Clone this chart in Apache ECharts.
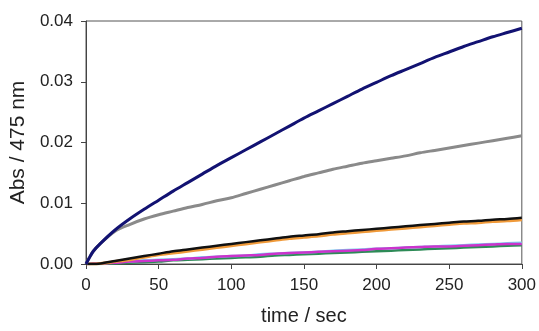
<!DOCTYPE html>
<html>
<head>
<meta charset="utf-8">
<script src="https://cdn.jsdelivr.net/npm/echarts@6/dist/echarts.min.js"></script>
<style>
  html, body { margin: 0; padding: 0; background: #fff; }
  #chart { width: 539px; height: 331px; }
</style>
</head>
<body>
<div id="chart"></div>
<script>
// time points (sec)
const times = [0, 2, 5, 10, 20, 30, 40, 50, 60, 70, 80, 90, 100, 110, 120, 130, 140, 150,
  160, 170, 180, 190, 200, 210, 220, 230, 240, 250, 260, 270, 280, 290, 300];

// absorbance at 475 nm
const navy = [0, 0.0009, 0.0021, 0.0034, 0.0056, 0.0074, 0.0090, 0.0105, 0.0120, 0.0134, 0.0148, 0.0162, 0.0175,
  0.0188, 0.0201, 0.0214, 0.0227, 0.0240, 0.0252, 0.0264, 0.0276, 0.0288, 0.0299,
  0.0310, 0.0320, 0.0330, 0.0340, 0.0349, 0.0358, 0.0366, 0.0374, 0.0381, 0.0388];
const gray = [0, 0.0009, 0.0021, 0.0034, 0.0054, 0.0065, 0.0074, 0.0081, 0.0087, 0.0093, 0.0098, 0.0104, 0.0109,
  0.0116, 0.0123, 0.0130, 0.0137, 0.0144, 0.0150, 0.0156, 0.0161, 0.0166, 0.0170,
  0.0174, 0.0178, 0.0183, 0.0187, 0.0191, 0.0195, 0.0199, 0.0203, 0.0207, 0.0211];
const black = [0, 0, 0, 0.0001, 0.0005, 0.0009, 0.0013, 0.0017, 0.0021, 0.0024, 0.0027, 0.0030, 0.0033,
  0.0036, 0.0039, 0.0042, 0.0045, 0.0047, 0.0049, 0.0052, 0.0054, 0.0056, 0.0058,
  0.0060, 0.0062, 0.0064, 0.0066, 0.0068, 0.0070, 0.0071, 0.0073, 0.0074, 0.0076];
const orange = [0, 0, 0, 0.0001, 0.0004, 0.0007, 0.0011, 0.0015, 0.0018, 0.0021, 0.0024, 0.0027, 0.0030,
  0.0033, 0.0036, 0.0039, 0.0042, 0.0044, 0.0046, 0.0049, 0.0051, 0.0053, 0.0055,
  0.0057, 0.0059, 0.0061, 0.0063, 0.0065, 0.0067, 0.0068, 0.0070, 0.0071, 0.0073];
const cyan = [0, 0, 0, 0.0001, 0.0003, 0.0004, 0.0006, 0.0007, 0.0008, 0.0009, 0.0011, 0.0012, 0.0013,
  0.0014, 0.0016, 0.0017, 0.0018, 0.0019, 0.0020, 0.0022, 0.0023, 0.0024, 0.0025,
  0.0026, 0.0027, 0.0028, 0.0029, 0.0030, 0.0031, 0.0032, 0.0033, 0.0034, 0.0035];
const green = [0, 0, 0, 0, 0.0001, 0.0002, 0.0003, 0.0004, 0.0006, 0.0007, 0.0008, 0.0009, 0.0010,
  0.0011, 0.0012, 0.0014, 0.0015, 0.0016, 0.0017, 0.0018, 0.0019, 0.0020, 0.0021,
  0.0022, 0.0023, 0.0024, 0.0025, 0.0026, 0.0027, 0.0028, 0.0029, 0.0030, 0.0031];
const magenta = [0, 0, 0.0001, 0.0001, 0.0002, 0.0004, 0.0005, 0.0006, 0.0007, 0.0009, 0.0010, 0.0012, 0.0013,
  0.0014, 0.0015, 0.0017, 0.0018, 0.0019, 0.0020, 0.0021, 0.0022, 0.0023, 0.0025,
  0.0026, 0.0027, 0.0028, 0.0029, 0.0029, 0.0030, 0.0031, 0.0032, 0.0033, 0.0033];

const yTicks = ['0.00', '0.01', '0.02', '0.03', '0.04'];

const pairs = (vals) => times.map((t, i) => [t, vals[i]]);

const mkLine = (name, vals, color, width) => ({
  name,
  type: 'line',
  data: pairs(vals),
  showSymbol: false,
  smooth: 0.3,
  lineStyle: { color, width },
  z: 3,
});

const axisColor = '#444';
const font = '"Liberation Sans", Arial, sans-serif';

const chart = echarts.init(document.getElementById('chart'));
chart.setOption({
  animation: false,
  backgroundColor: '#fff',
  grid: {
    left: 84, right: 15, top: 21, bottom: 62,
    show: true, borderColor: '#555', borderWidth: 1,
  },
  xAxis: {
    type: 'value',
    min: 0, max: 300, interval: 50,
    name: 'time / sec',
    nameLocation: 'middle',
    nameGap: 42,
    nameTextStyle: { fontSize: 20, color: '#222', fontFamily: font },
    axisLine: { show: true, lineStyle: { color: axisColor, width: 1 } },
    axisTick: { show: true, inside: false, length: 5, lineStyle: { color: axisColor } },
    axisLabel: { fontSize: 17, color: '#222', margin: 13, fontFamily: font },
    splitLine: { show: false },
  },
  yAxis: {
    type: 'value',
    min: 0, max: 0.04, interval: 0.01,
    name: 'Abs / 475 nm',
    nameLocation: 'middle',
    nameGap: 57,
    nameTextStyle: { fontSize: 21, color: '#222', fontFamily: font },
    axisLine: { show: true, lineStyle: { color: axisColor, width: 1 } },
    axisTick: { show: true, inside: false, length: 5, lineStyle: { color: axisColor } },
    axisLabel: {
      fontSize: 17, color: '#222', margin: 13, fontFamily: font,
      formatter: (v) => yTicks[Math.round(v * 100)],
    },
    splitLine: { show: false },
  },
  series: [
    mkLine('green', green, '#2e8b57', 2.5),
    mkLine('cyan', cyan, '#7fd0ee', 2.5),
    mkLine('magenta', magenta, '#cc33cc', 2.5),
    mkLine('orange', orange, '#f09a3a', 3),
    mkLine('black', black, '#111111', 2.5),
    mkLine('gray', gray, '#8a8a8a', 3),
    mkLine('navy', navy, '#121272', 3),
  ],
});
</script>
</body>
</html>
